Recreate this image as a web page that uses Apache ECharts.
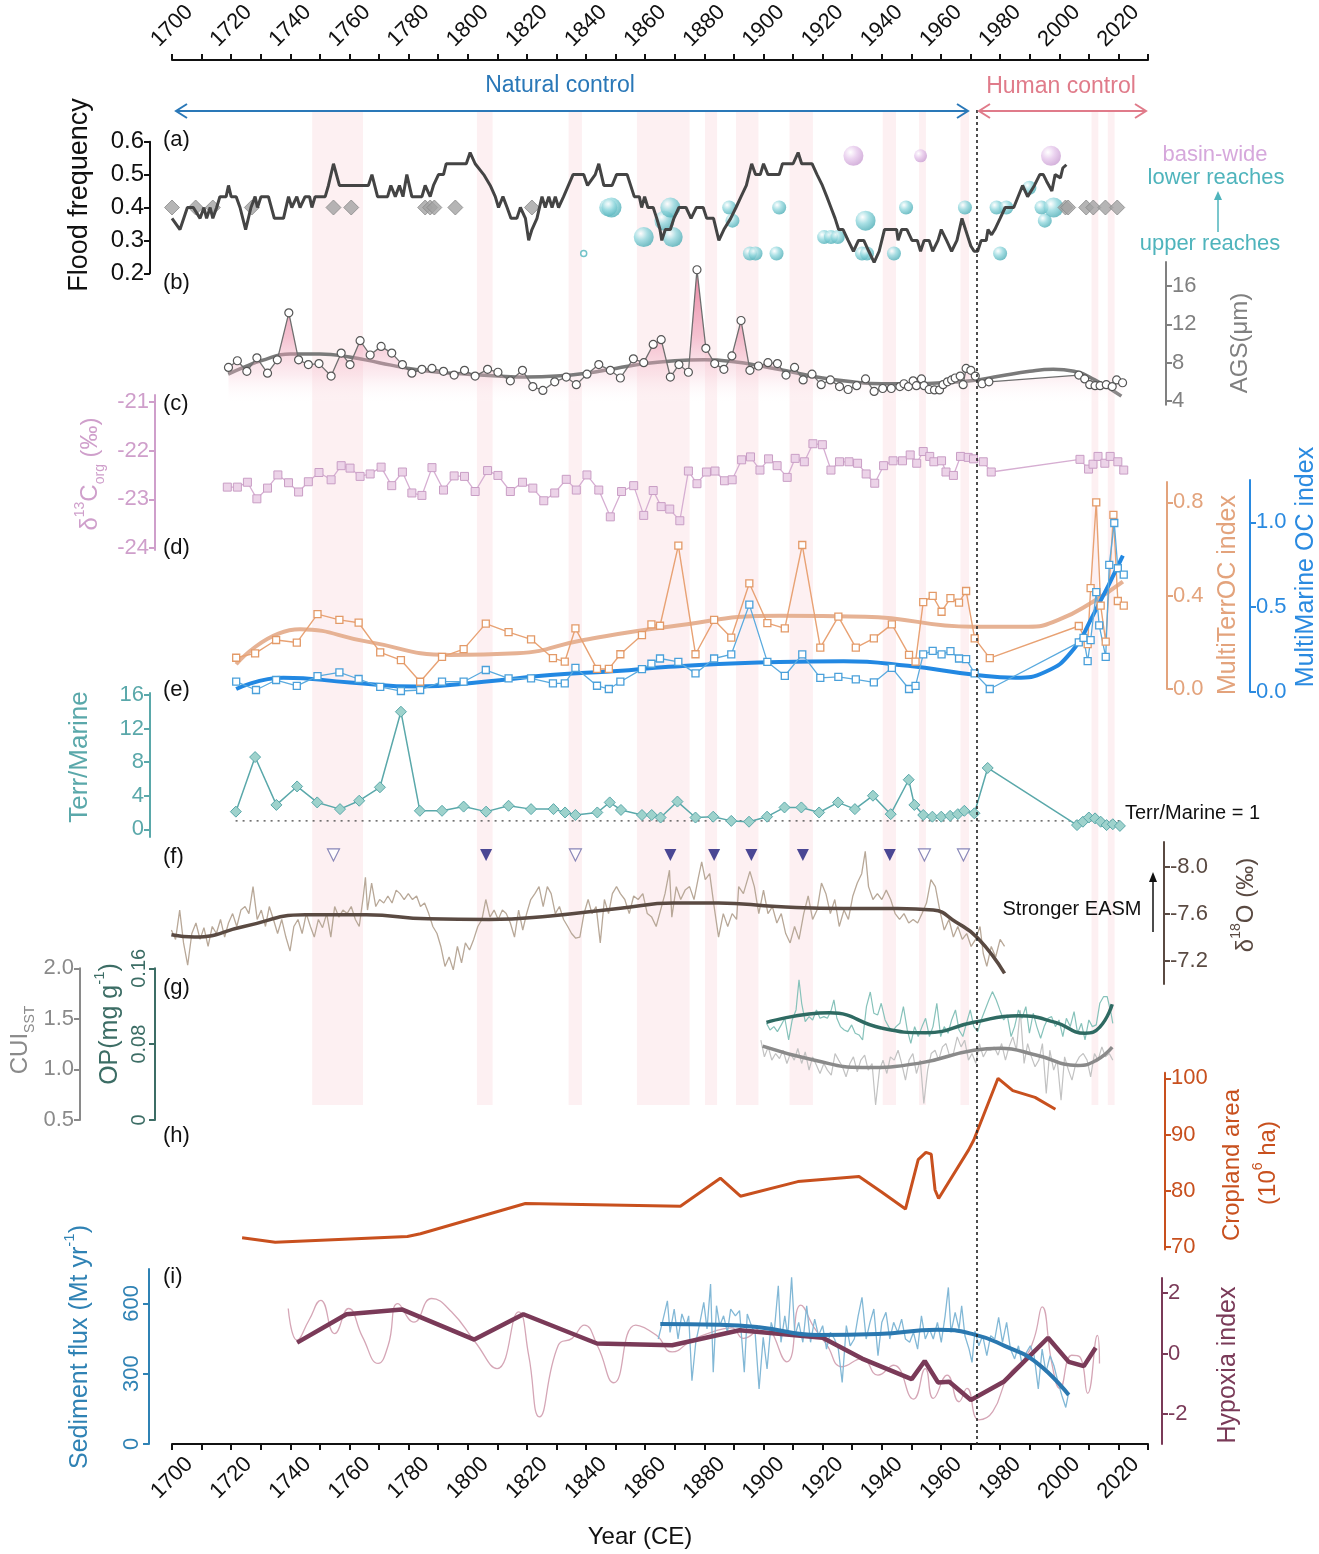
<!DOCTYPE html>
<html>
<head>
<meta charset="utf-8">
<script src="https://cdn.jsdelivr.net/npm/echarts@6/dist/echarts.min.js"></script>
<style>
  html, body { margin: 0; background: #fff; }
  #chart { width: 1319px; height: 1554px; }
</style>
</head>
<body>
<div id="chart"></div>
<script>
// Stacked palaeo-record panels (a)-(i) on one shared year axis.
// One grid per y axis so every axis can keep its own vertical extent.

const FONT = '"Liberation Sans", Arial, sans-serif';

// ---- shared x ----
const yearLabels = [1700, 1720, 1740, 1760, 1780, 1800, 1820, 1840, 1860, 1880, 1900, 1920, 1940, 1960, 1980, 2000, 2020];
const yearTicks = [1700, 1710, 1720, 1730, 1740, 1750, 1760, 1770, 1780, 1790, 1800, 1810, 1820, 1830, 1840, 1850, 1860,
  1870, 1880, 1890, 1900, 1910, 1920, 1930, 1940, 1950, 1960, 1970, 1980, 1990, 2000, 2010, 2020, 2030];
const floodBands = [[1747.4, 1764.6], [1803.1, 1808.4], [1834.1, 1838.6], [1857.2, 1875], [1880.2, 1884.3], [1890.7, 1898.3],
  [1908.8, 1916.7], [1940.3, 1944.8], [1952.6, 1954.9], [1966.6, 1969.5], [2010.9, 2013.2], [2016.4, 2018.7]];
const regimeShift = 1972;

// ---- (a) flood frequency ----
const floodTicks = [0.2, 0.3, 0.4, 0.5, 0.6];
const floodFreq = [[1700.0,.367],[1702.7,.333],[1705.2,.400],[1707.2,.400],[1709.5,.367],[1710.8,.400],[1711.7,.367],[1712.9,.400],
  [1713.8,.367],[1715.1,.400],[1716.2,.433],[1718.3,.433],[1719.1,.467],[1720.0,.433],[1721.7,.433],[1723.0,.400],[1724.9,.333],
  [1726.7,.400],[1728.1,.433],[1728.9,.400],[1730.1,.433],[1732.6,.433],[1734.6,.367],[1737.7,.367],[1739.4,.433],[1740.5,.400],
  [1742.2,.433],[1743.3,.400],[1745.0,.433],[1746.5,.433],[1747.3,.400],[1748.4,.433],[1751.8,.433],[1752.9,.467],[1754.6,.533],
  [1756.6,.467],[1766.4,.467],[1767.6,.500],[1769.5,.433],[1772.9,.433],[1774.0,.467],[1775.5,.433],[1776.9,.467],[1778.1,.433],
  [1779.4,.500],[1781.1,.433],[1784.5,.433],[1785.6,.467],[1787.3,.433],[1788.4,.467],[1790.1,.500],[1791.8,.500],[1792.7,.533],
  [1799.5,.533],[1800.8,.567],[1802.5,.533],[1805.4,.500],[1807.6,.467],[1809.3,.433],[1810.4,.400],[1811.9,.433],[1813.3,.400],
  [1814.6,.367],[1816.6,.367],[1817.8,.400],[1819.5,.367],[1820.6,.300],[1821.7,.333],[1823.4,.367],[1825.1,.433],[1826.2,.400],
  [1827.4,.433],[1828.5,.400],[1829.6,.433],[1830.7,.400],[1832.4,.433],[1835.6,.500],[1839.2,.500],[1840.5,.467],[1843.1,.500],
  [1844.3,.533],[1846.0,.467],[1848.8,.467],[1850.3,.500],[1853.9,.500],[1856.3,.433],[1858.0,.433],[1858.8,.400],[1859.8,.433],
  [1860.9,.400],[1862.7,.400],[1863.9,.367],[1865.0,.333],[1865.6,.300],[1866.8,.333],[1868.5,.333],[1869.7,.367],[1871.4,.400],
  [1873.8,.400],[1875.5,.367],[1877.3,.400],[1879.6,.400],[1880.8,.367],[1883.1,.367],[1884.9,.300],[1886.6,.333],[1888.9,.367],
  [1890.7,.400],[1892.4,.433],[1894.2,.467],[1896.0,.533],[1897.3,.500],[1898.9,.500],[1900.0,.533],[1901.5,.500],[1905.3,.500],
  [1906.4,.533],[1910.0,.533],[1911.7,.567],[1912.9,.533],[1916.4,.533],[1918.1,.500],[1919.9,.467],[1921.4,.433],[1922.8,.400],
  [1924.2,.367],[1925.4,.333],[1926.9,.333],[1928.6,.300],[1930.4,.267],[1932.1,.300],[1933.9,.300],[1935.6,.267],[1937.4,.233],
  [1939.1,.267],[1940.9,.333],[1945.0,.333],[1945.5,.300],[1946.7,.333],[1948.5,.333],[1950.2,.300],[1952.0,.300],[1953.1,.267],
  [1954.3,.300],[1956.0,.300],[1957.2,.267],[1959.0,.300],[1960.1,.333],[1961.9,.300],[1963.6,.267],[1965.4,.300],[1967.1,.367],
  [1968.3,.333],[1970.1,.283],[1971.2,.267],[1972.4,.267],[1973.6,.300],[1975.3,.300],[1975.9,.333],[1977.1,.317],[1978.2,.333],
  [1980.0,.367],[1981.7,.400],[1984.6,.400],[1987.6,.467],[1989.3,.433],[1991.6,.467],[1993.4,.500],[1994.6,.500],[1995.7,.480],
  [1997.5,.450],[1998.6,.500],[2000.4,.490],[2001.2,.520],[2002.4,.530]];
const documentedYears = [1700, 1708, 1713.8, 1727, 1754.6, 1760.6, 1785.6, 1787.3, 1788.7, 1795.8, 1821.7,
  2002.1, 2003, 2009.1, 2011.5, 2015.6, 2019.6];
const documentedLevel = 0.4;
// [year, level, bubble diameter]
const floodsRegional = [[1847.5,0.40,18],[1848.6,0.40,20],[1859.5,0.31,20],[1866.5,0.36,20],[1868.5,0.40,20],[1869.3,0.31,20],
  [1888.4,0.40,14],[1889.5,0.36,14],[1895.4,0.26,14],[1897.3,0.26,14],[1904.4,0.26,14],[1905.3,0.40,14],[1920.5,0.31,14],
  [1922.8,0.31,14],[1925.1,0.31,14],[1933.3,0.26,14],[1935.0,0.26,14],[1934.5,0.36,20],[1944.1,0.26,14],[1948.2,0.40,14],
  [1968.1,0.40,14],[1978.8,0.40,14],[1982.1,0.40,14],[1980.0,0.26,14],[1989.9,0.46,14],[1994.0,0.40,14],[1995.1,0.36,14],
  [1998.1,0.40,20]];
const floodsMinor = [[1839.2, 0.26, 6]];
const floodsBasin = [[1930.4,0.557,20],[1953.1,0.557,13],[1997.2,0.557,20]];

// ---- (b) AGS ----
const agsTicks = [4, 8, 12, 16];
const ags = [[1719.1,7.5],[1722.1,8.2],[1725.3,7.1],[1728.7,8.5],[1732.3,6.9],[1735.6,8.3],[1739.5,13.2],[1742.8,8.3],[1746.1,7.8],
  [1749.7,7.9],[1753.8,6.6],[1757.2,9.0],[1760.2,7.8],[1763.6,10.3],[1767.0,8.8],[1770.7,9.7],[1774.3,9.0],[1777.9,7.8],[1781.1,6.9],
  [1784.5,7.3],[1787.9,7.4],[1791.8,7.1],[1795.4,6.7],[1798.9,7.2],[1802.5,6.6],[1806.7,7.3],[1810.2,7.0],[1814.4,6.1],[1818.5,7.2],
  [1822.0,5.5],[1825.4,5.1],[1829.4,6.0],[1833.3,6.5],[1836.7,5.7],[1840.3,6.8],[1844.3,7.8],[1848.2,7.2],[1851.6,6.4],[1856.0,8.4],
  [1859.5,8.0],[1862.7,9.9],[1865.4,10.4],[1868.5,6.5],[1871.4,7.8],[1874.6,7.0],[1877.5,17.7],[1880.5,9.5],[1883.5,7.9],[1886.6,7.3],
  [1889.3,8.7],[1892.4,12.4],[1895.4,7.2],[1898.3,7.65],[1901.5,8.0],[1904.7,7.9],[1907.6,6.7],[1910.5,7.5],[1913.4,6.2],[1916.4,6.8],
  [1919.5,5.7],[1922.6,6.2],[1925.7,5.5],[1928.6,5.2],[1931.5,5.6],[1934.5,6.3],[1937.4,5.0],[1940.3,5.3],[1943.2,5.3],[1946.1,5.5],
  [1947.5,5.8],[1949.0,5.5],[1950.6,6.1],[1951.7,5.6],[1953.4,6.3],[1954.3,5.6],[1956.0,5.2],[1957.8,5.15],[1959.5,5.15],[1960.7,5.7],
  [1962.2,6.0],[1963.6,6.2],[1964.8,6.4],[1966.5,6.6],[1967.5,5.7],[1968.5,7.4],[1970.1,7.2],[1971.6,6.6],[1973.9,5.8],[1976.2,6.0],
  [2006.6,6.7],[2008.6,6.3],[2010.3,5.7],[2012.1,5.6],[2013.8,5.6],[2015.9,5.7],[2017.9,5.5],[2019.4,6.2],[2021.4,5.9]];
const agsSmooth = [[1719,6.8],[1725,7.6],[1730,8.2],[1740,8.9],[1750,8.9],[1760,8.6],[1770,8.0],[1780,7.4],[1790,7.0],[1800,6.8],
  [1810,6.6],[1820,6.5],[1830,6.6],[1840,6.9],[1850,7.4],[1860,7.9],[1870,8.2],[1880,8.3],[1890,8.1],[1900,7.6],[1910,7.0],
  [1920,6.4],[1930,6.0],[1940,5.8],[1950,5.8],[1960,5.9],[1970,6.1],[1980,6.6],[1990,7.1],[1998,7.3],[2005,7.1],[2012,6.2],[2021,4.5]];

// ---- (c) d13C org ----
const d13cTicks = [-24, -23, -22, -21];
const d13c = [[1718.7,-22.75],[1722.1,-22.75],[1725.5,-22.65],[1728.7,-22.99],[1732.3,-22.77],[1735.8,-22.50],[1739.4,-22.66],
  [1742.8,-22.85],[1746.1,-22.64],[1749.7,-22.45],[1753.8,-22.60],[1757.2,-22.31],[1760.2,-22.36],[1763.6,-22.53],[1767.0,-22.48],
  [1770.7,-22.34],[1774.3,-22.72],[1777.9,-22.44],[1781.1,-22.87],[1784.5,-22.92],[1787.9,-22.35],[1791.8,-22.81],[1795.4,-22.52],
  [1798.9,-22.53],[1802.5,-22.84],[1806.7,-22.41],[1810.2,-22.51],[1814.4,-22.84],[1818.5,-22.65],[1822.0,-22.77],[1825.7,-23.03],
  [1829.4,-22.87],[1833.3,-22.59],[1836.7,-22.81],[1840.3,-22.50],[1844.3,-22.81],[1848.2,-23.36],[1852.0,-22.84],[1856.1,-22.72],
  [1859.5,-23.33],[1862.7,-22.82],[1865.4,-23.15],[1868.3,-23.20],[1871.7,-23.44],[1874.6,-22.42],[1877.5,-22.68],[1880.7,-22.44],
  [1883.6,-22.42],[1886.8,-22.62],[1889.4,-22.60],[1892.6,-22.19],[1895.6,-22.13],[1898.8,-22.40],[1901.7,-22.17],[1904.6,-22.31],
  [1908.0,-22.55],[1910.7,-22.16],[1913.8,-22.23],[1916.7,-21.86],[1919.9,-21.88],[1922.8,-22.40],[1925.7,-22.23],[1928.9,-22.23],
  [1931.8,-22.26],[1934.7,-22.48],[1937.6,-22.67],[1940.6,-22.31],[1943.8,-22.21],[1947.0,-22.21],[1949.6,-22.09],[1951.8,-22.26],
  [1954.0,-22.02],[1956.2,-22.12],[1957.6,-22.23],[1960.2,-22.21],[1961.7,-22.44],[1964.2,-22.51],[1966.6,-22.12],[1969.2,-22.14],
  [1971.0,-22.17],[1974.3,-22.23],[1977.0,-22.44],[2007.0,-22.18],[2009.9,-22.38],[2011.4,-22.28],[2013.1,-22.12],[2015.4,-22.26],
  [2017.2,-22.12],[2019.8,-22.23],[2021.8,-22.40]];

// ---- (d) MultiTerrOC / MultiMarine OC ----
const terrTicks = [0, 0.4, 0.8];
const marineTicks = [0, 0.5, 1.0];
const terrOC = [[1721.7,0.134],[1728.1,0.153],[1735.2,0.210],[1742.2,0.199],[1749.2,0.321],[1756.6,0.296],[1763.1,0.284],
  [1770.4,0.157],[1777.4,0.124],[1783.9,0.031],[1791.3,0.138],[1798.6,0.171],[1806.1,0.280],[1813.8,0.244],[1821.4,0.213],
  [1828.8,0.132],[1832.8,0.117],[1836.4,0.260],[1843.7,0.086],[1847.7,0.086],[1851.6,0.149],[1858.9,0.231],[1862.1,0.277],
  [1865.0,0.271],[1871.2,0.614],[1877.0,0.149],[1883.3,0.296],[1889.1,0.220],[1895.2,0.453],[1901.3,0.282],[1907.2,0.260],
  [1913.1,0.617],[1919.2,0.177],[1925.3,0.310],[1931.2,0.177],[1937.3,0.217],[1943.4,0.277],[1949.2,0.146],[1951.4,0.117],
  [1954.0,0.372],[1957.2,0.399],[1960.2,0.331],[1963.2,0.389],[1966.1,0.370],[1968.5,0.420],[1971.4,0.217],[1976.5,0.132],
  [2006.6,0.270],[2009.6,0.192],[2010.6,0.432],[2012.5,0.800],[2014.0,0.357],[2015.7,0.203],[2018.3,0.746],[2019.8,0.377],
  [2021.8,0.357]];
const terrOCSmooth = [[1721.7,0.106],[1743.3,0.256],[1766,0.203],[1794,0.146],[1816.6,0.153],[1839.2,0.210],[1867.9,0.267],
  [1905.4,0.314],[1934.4,0.310],[1970.7,0.267],[1989.6,0.267],[1999.7,0.296],[2011.4,0.374],[2021.5,0.460]];
const marineOC = [[1721.7,0.059],[1728.4,0.010],[1735.2,0.069],[1742.2,0.034],[1749.2,0.092],[1756.6,0.114],[1763.1,0.075],
  [1770.4,0.028],[1777.4,0.004],[1783.9,0.010],[1791.3,0.059],[1798.6,0.059],[1806.1,0.128],[1813.8,0.079],[1821.4,0.079],
  [1828.8,0.049],[1832.8,0.049],[1836.4,0.141],[1843.7,0.035],[1847.7,0.016],[1851.6,0.059],[1858.9,0.133],[1862.1,0.165],
  [1865.0,0.196],[1871.2,0.176],[1877.0,0.108],[1883.3,0.196],[1889.1,0.220],[1895.2,0.514],[1901.3,0.176],[1907.2,0.094],
  [1913.1,0.220],[1919.2,0.082],[1925.3,0.088],[1931.2,0.073],[1937.3,0.055],[1943.4,0.141],[1949.2,0.016],[1951.4,0.034],
  [1954.0,0.220],[1957.2,0.241],[1960.2,0.220],[1963.2,0.239],[1966.1,0.196],[1968.5,0.192],[1971.4,0.108],[1976.5,0.016],
  [2006.6,0.291],[2008.2,0.318],[2009.6,0.180],[2010.6,0.304],[2012.5,0.588],[2013.5,0.392],[2015.7,0.206],[2016.9,0.749],
  [2018.6,0.996],[2019.8,0.729],[2021.8,0.691]];
const marineOCSmooth = [[1721.7,0.016],[1737.7,0.082],[1760.2,0.055],[1782.8,0.030],[1805.4,0.059],[1827.9,0.098],[1850.5,0.122],
  [1868,0.147],[1905.4,0.176],[1927.1,0.180],[1948.9,0.153],[1970.7,0.102],[1985.2,0.082],[1995.4,0.118],[2004.1,0.235],
  [2011.4,0.451],[2021.5,0.804]];

// ---- (e) Terr/Marine ----
const tmTicks = [0, 4, 8, 12, 16];
const terrMarine = [[1721.6,2.1],[1728.1,8.6],[1735.3,2.9],[1742.3,5.1],[1749.1,3.2],[1756.8,2.4],[1763.3,3.4],[1770.3,5.0],
  [1777.4,14.0],[1783.8,2.2],[1791.3,2.2],[1798.6,2.7],[1806.2,2.1],[1813.8,2.8],[1821.4,2.4],[1829.0,2.4],[1832.9,2.0],[1836.4,1.7],
  [1843.8,2.0],[1848.0,3.2],[1851.8,2.3],[1858.9,1.7],[1862.2,1.7],[1865.2,1.4],[1870.9,3.3],[1877.0,1.4],[1883.0,1.5],[1889.1,1.0],
  [1895.1,0.9],[1901.2,1.5],[1907.1,2.6],[1912.8,2.6],[1918.8,2.0],[1925.2,3.2],[1930.9,2.4],[1937.0,4.0],[1943.0,1.8],[1949.1,5.9],
  [1951.0,2.9],[1954.0,1.7],[1957.1,1.5],[1960.1,1.5],[1963.1,1.6],[1965.7,1.8],[1967.9,2.2],[1971.3,1.9],[1975.8,7.3],[2006.0,0.5],
  [2008.0,0.9],[2010.0,1.4],[2012.1,1.3],[2014.0,0.9],[2016.0,0.5],[2018.1,0.6],[2020.5,0.4]];
const tmParity = [[1721.5, 1], [2021, 1]];

// ---- (f) d18O ----
const d18oTicks = [-8.0, -7.6, -7.2];
const d18oAnnual = [[1699.8,-7.46],[1701.2,-7.38],[1702.6,-7.63],[1703.9,-7.35],[1705.3,-7.16],[1706.7,-7.43],[1708.1,-7.52],
  [1709.5,-7.38],[1710.8,-7.48],[1712.2,-7.32],[1713.6,-7.49],[1715.0,-7.43],[1716.4,-7.55],[1717.8,-7.40],[1719.1,-7.52],
  [1720.5,-7.60],[1721.9,-7.49],[1723.3,-7.63],[1724.7,-7.66],[1726.0,-7.60],[1727.4,-7.83],[1728.8,-7.55],[1730.2,-7.63],
  [1731.6,-7.49],[1732.9,-7.66],[1734.3,-7.55],[1735.7,-7.43],[1737.1,-7.55],[1738.5,-7.40],[1739.9,-7.28],[1741.2,-7.49],
  [1742.6,-7.55],[1744.0,-7.43],[1745.4,-7.60],[1746.8,-7.49],[1748.1,-7.40],[1749.5,-7.55],[1750.9,-7.48],[1752.3,-7.60],
  [1753.7,-7.40],[1755.0,-7.66],[1756.4,-7.57],[1757.8,-7.63],[1759.2,-7.60],[1760.6,-7.66],[1762.0,-7.55],[1763.3,-7.49],
  [1764.7,-7.75],[1765.4,-7.91],[1766.1,-7.63],[1767.5,-7.86],[1768.9,-7.66],[1770.2,-7.72],[1771.6,-7.69],[1773.0,-7.75],
  [1774.4,-7.69],[1775.8,-7.80],[1777.1,-7.77],[1778.5,-7.72],[1779.9,-7.77],[1781.3,-7.72],[1782.7,-7.75],[1784.0,-7.66],
  [1785.4,-7.69],[1786.8,-7.60],[1788.2,-7.49],[1789.6,-7.43],[1790.9,-7.32],[1792.3,-7.15],[1793.7,-7.23],[1795.1,-7.12],
  [1796.5,-7.32],[1797.9,-7.18],[1799.2,-7.35],[1800.6,-7.29],[1802.0,-7.38],[1803.4,-7.49],[1804.8,-7.55],[1806.1,-7.72],
  [1807.5,-7.57],[1808.9,-7.63],[1810.3,-7.55],[1811.7,-7.63],[1813.0,-7.60],[1814.4,-7.52],[1815.8,-7.40],[1817.2,-7.63],
  [1818.6,-7.46],[1819.9,-7.60],[1821.3,-7.72],[1822.7,-7.77],[1824.1,-7.83],[1825.5,-7.66],[1826.9,-7.83],[1828.2,-7.77],
  [1829.6,-7.60],[1831.0,-7.66],[1832.4,-7.55],[1833.8,-7.49],[1835.1,-7.43],[1836.5,-7.39],[1837.9,-7.40],[1839.3,-7.60],
  [1840.7,-7.72],[1842.0,-7.60],[1843.4,-7.66],[1844.8,-7.35],[1846.2,-7.72],[1847.6,-7.60],[1848.9,-7.77],[1850.3,-7.83],
  [1851.6,-7.77],[1853.1,-7.72],[1854.6,-7.60],[1856.1,-7.75],[1857.6,-7.72],[1859.2,-7.77],[1860.7,-7.60],[1862.2,-7.57],
  [1863.7,-7.49],[1865.2,-7.63],[1866.7,-7.77],[1868.2,-7.97],[1869.0,-7.57],[1870.5,-7.83],[1872.0,-7.72],[1873.5,-7.80],
  [1875.0,-7.83],[1876.5,-7.72],[1878.0,-7.91],[1879.1,-8.04],[1880.3,-7.89],[1881.8,-7.94],[1883.3,-7.66],[1884.8,-7.40],
  [1886.4,-7.60],[1887.9,-7.49],[1889.4,-7.60],[1890.9,-7.55],[1891.6,-7.83],[1893.2,-7.77],[1895.4,-7.96],[1896.9,-7.83],
  [1898.4,-7.60],[1900.0,-7.80],[1901.5,-7.60],[1903.0,-7.66],[1904.5,-7.52],[1906.0,-7.60],[1907.5,-7.43],[1909.0,-7.35],
  [1910.5,-7.49],[1912.0,-7.38],[1913.6,-7.60],[1915.1,-7.75],[1916.6,-7.55],[1918.1,-7.63],[1919.6,-7.86],[1921.1,-7.77],
  [1922.6,-7.60],[1924.1,-7.72],[1925.6,-7.49],[1927.2,-7.63],[1928.7,-7.55],[1930.2,-7.75],[1931.7,-7.86],[1933.2,-7.94],
  [1934.4,-8.13],[1935.5,-7.83],[1937.0,-7.72],[1938.5,-7.77],[1940.0,-7.72],[1941.5,-7.80],[1943.0,-7.72],[1944.5,-7.60],
  [1946.0,-7.55],[1947.5,-7.60],[1949.1,-7.52],[1950.6,-7.55],[1952.1,-7.52],[1953.6,-7.60],[1955.1,-7.69],[1956.6,-7.89],
  [1958.1,-7.83],[1959.6,-7.63],[1961.1,-7.46],[1962.7,-7.55],[1964.2,-7.40],[1965.7,-7.49],[1967.2,-7.38],[1968.7,-7.43],
  [1970.2,-7.32],[1971.7,-7.38],[1973.2,-7.49],[1974.3,-7.26],[1975.5,-7.15],[1977.0,-7.32],[1978.5,-7.23],[1980.0,-7.38],
  [1981.5,-7.32]];
const d18oSmooth = [[1699.8,-7.42],[1707.7,-7.40],[1724.3,-7.49],[1745,-7.59],[1765.7,-7.59],[1786.5,-7.555],[1807.2,-7.55],
  [1827.9,-7.58],[1851.6,-7.646],[1869.7,-7.69],[1884.8,-7.69],[1904.5,-7.66],[1927.2,-7.643],[1945.3,-7.643],[1957.4,-7.63],
  [1964.9,-7.53],[1972.5,-7.39],[1981.5,-7.09]];
const eventMarkLevel = -8.10;
const eventsStrong = [1806.2, 1868.5, 1883.3, 1895.9, 1913.3, 1942.7];
const eventsWeak = [1754.6, 1836.4, 1954.4, 1967.6];

// ---- (g) CUI_SST and OP ----
const cuiTicks = [0.5, 1.0, 1.5, 2.0];
const opTicks = [0, 0.08, 0.16];
const opAnnual = [[1901.0,.102],[1902.2,.095],[1903.5,.0985],[1904.7,.0932],[1906.0,.1003],[1907.2,.1073],[1908.5,.0844],
  [1909.7,.1055],[1911.0,.1161],[1912.0,.1478],[1912.9,.1231],[1914.1,.1038],[1915.4,.1090],[1916.6,.1055],[1917.9,.1161],
  [1919.1,.1073],[1920.4,.1090],[1921.6,.1073],[1922.9,.1161],[1923.8,.1266],[1924.8,.1073],[1926.0,.0985],[1927.3,.0950],
  [1928.5,.0932],[1929.8,.1003],[1931.0,.0915],[1932.3,.0897],[1933.5,.0844],[1934.8,.1196],[1936.1,.1350],[1937.3,.1126],
  [1938.6,.1108],[1939.8,.1231],[1941.1,.1055],[1942.3,.0985],[1943.6,.0932],[1944.8,.0985],[1946.1,.1020],[1947.3,.1196],
  [1948.6,.0950],[1949.8,.0809],[1951.1,.0985],[1952.3,.0880],[1953.6,.0985],[1954.8,.1073],[1956.1,.0880],[1957.3,.0985],
  [1958.6,.1231],[1959.9,.0880],[1961.1,.0985],[1962.4,.0915],[1963.6,.1055],[1964.9,.1161],[1966.1,.0950],[1967.4,.0880],
  [1968.6,.1020],[1969.9,.1161],[1971.1,.0985],[1972.4,.0932],[1973.6,.1055],[1974.9,.1161],[1976.2,.1266],[1977.4,.1354],
  [1978.7,.1266],[1979.9,.1161],[1981.2,.1055],[1982.4,.1108],[1983.7,.0880],[1984.9,.0985],[1986.2,.1161],[1987.4,.1073],
  [1988.7,.1196],[1989.9,.0915],[1991.2,.1126],[1992.4,.0985],[1993.7,.0862],[1994.9,.0985],[1996.2,.1073],[1997.4,.1090],
  [1998.7,.0985],[1999.9,.1055],[2001.2,.0880],[2002.4,.1073],[2003.7,.0985],[2005.0,.1143],[2006.2,.0915],[2007.5,.1020],
  [2008.7,.0844],[2010.0,.1055],[2011.2,.0985],[2012.5,.1003],[2013.7,.1231],[2015.0,.1302],[2016.2,.1302],[2017.5,.1126],
  [2018.1,.1020]];
const opSmooth = [[1901.0,.103],[1922.3,.113],[1939.8,.097],[1954.9,.092],[1971.1,.103],[1986.2,.110],[1998.7,.103],
  [2008.7,.0915],[2013.7,.098],[2017.9,.122]];
const cuiAnnual = [[1899.1,1.289],[1900.3,1.124],[1901.6,1.223],[1902.8,1.092],[1904.1,1.157],[1905.4,1.108],[1906.6,1.190],
  [1907.9,1.059],[1909.1,1.157],[1910.4,1.092],[1911.6,1.207],[1912.9,1.059],[1914.1,1.174],[1915.4,0.993],[1916.6,1.124],
  [1917.9,1.042],[1919.1,0.960],[1920.4,1.059],[1921.6,0.993],[1922.9,0.944],[1924.2,1.157],[1925.4,1.092],[1926.7,1.026],
  [1927.9,0.927],[1929.2,1.059],[1930.4,1.124],[1931.7,0.977],[1932.9,1.092],[1934.2,1.141],[1935.4,0.993],[1936.7,1.059],
  [1937.9,0.648],[1939.2,0.993],[1940.4,1.092],[1941.7,0.960],[1942.9,1.124],[1944.2,1.092],[1945.5,1.190],[1946.7,1.059],
  [1948.0,0.894],[1949.2,1.092],[1950.5,1.157],[1951.7,0.960],[1953.0,1.092],[1954.2,0.664],[1955.5,0.993],[1956.7,1.157],
  [1958.0,1.190],[1959.2,1.092],[1960.5,1.223],[1961.7,1.256],[1963.0,1.124],[1964.2,1.157],[1965.5,1.322],[1966.8,1.223],
  [1968.0,1.289],[1969.3,1.092],[1970.5,1.157],[1971.8,1.059],[1973.0,1.256],[1974.3,1.124],[1975.5,1.190],[1976.8,1.190],
  [1978.0,1.223],[1979.3,1.141],[1980.5,1.256],[1981.8,1.092],[1983.0,1.223],[1984.3,1.322],[1985.5,1.190],[1986.8,1.585],
  [1988.1,1.059],[1989.3,1.256],[1990.6,1.124],[1991.8,1.026],[1993.1,1.092],[1994.3,1.256],[1995.6,0.763],[1996.8,1.190],
  [1998.1,0.993],[1999.3,1.092],[2000.6,0.697],[2001.8,1.124],[2003.1,0.993],[2004.3,0.894],[2005.6,1.059],[2006.8,1.124],
  [2008.1,1.157],[2009.4,1.092],[2010.6,0.927],[2011.9,1.157],[2013.1,1.092],[2014.4,1.223],[2015.6,1.124],[2016.9,1.157],
  [2018.1,1.092]];
const cuiSmooth = [[1899.7,1.23],[1917.3,1.09],[1933.5,1.02],[1952.3,1.06],[1971.1,1.19],[1979.9,1.21],[1992.4,1.14],
  [2006.2,1.04],[2012.5,1.09],[2017.9,1.22]];

// ---- (h) cropland area ----
const cropTicks = [70, 80, 90, 100];
const cropland = [[1723.7,71.6],[1734.9,70.8],[1779.6,71.8],[1784.0,72.3],[1819.5,77.7],[1871.9,77.2],[1885.4,82.2],[1892.2,79.0],
  [1911.6,81.6],[1932.3,82.5],[1939.8,79.8],[1948.0,76.7],[1952.3,85.5],[1954.9,86.8],[1956.7,86.5],[1958.0,80.1],[1959.2,78.6],
  [1969.3,87.2],[1971.1,89.0],[1979.3,100.0],[1984.3,97.8],[1991.8,96.6],[1998.7,94.5]];

// ---- (i) sediment flux and hypoxia ----
const sedTicks = [0, 300, 600];
const hypTicks = [-2, 0, 2];
const sedAnnual = [[1864.4,448],[1865.8,519],[1867.5,611],[1868.4,476],[1869.8,576],[1871.1,448],[1872.4,555],[1873.8,505],
  [1874.7,547],[1875.8,270],[1877.1,434],[1878.5,519],[1879.8,604],[1880.9,491],[1882.1,683],[1883.0,306],[1884.1,590],
  [1885.2,505],[1886.5,547],[1887.8,476],[1888.9,576],[1890.5,547],[1891.9,569],[1893.5,306],[1894.5,555],[1895.9,505],
  [1897.2,469],[1898.5,235],[1899.9,455],[1901.2,320],[1902.6,519],[1903.6,476],[1905.0,675],[1905.9,434],[1907.2,547],
  [1908.2,462],[1909.5,711],[1910.6,462],[1911.9,519],[1913.3,434],[1914.6,590],[1915.9,434],[1917.3,533],[1918.6,462],
  [1920.0,505],[1921.3,405],[1922.6,476],[1924.0,448],[1925.3,405],[1926.6,263],[1928.0,505],[1929.3,419],[1930.7,448],
  [1932.0,547],[1933.3,626],[1934.7,448],[1936.0,519],[1937.3,576],[1938.7,377],[1940.0,519],[1941.4,562],[1942.7,448],
  [1944.0,519],[1945.4,476],[1946.7,533],[1948.0,448],[1949.4,434],[1950.7,476],[1952.1,405],[1953.4,547],[1954.7,448],
  [1956.1,491],[1957.4,448],[1958.8,519],[1960.1,434],[1961.4,547],[1962.5,668],[1963.4,476],[1964.8,562],[1966.1,491],
  [1967.0,590],[1968.1,462],[1969.5,405],[1970.5,348],[1971.5,483],[1972.8,419],[1974.1,462],[1975.5,377],[1976.8,462],
  [1978.2,448],[1979.5,540],[1980.8,434],[1982.2,519],[1983.5,405],[1984.9,363],[1986.2,419],[1987.5,334],[1988.9,391],
  [1990.2,419],[1991.5,377],[1992.9,235],[1994.2,405],[1995.5,306],[1996.9,377],[1998.2,334],[1999.6,263],[2000.9,206],
  [2002.2,156],[2003.2,220]];
const sedSmooth = [[1865.1,512],[1885.2,509],[1898.5,498],[1918.6,465],[1938.7,469],[1958.8,488],[1970.8,469],[1981.5,419],
  [1992.2,348],[2003.2,209]];
const hypoxiaRaw = [[1739.3,1.49],[1742.3,0.44],[1746.3,1.10],[1750.3,1.76],[1755.0,0.66],[1759.7,1.49],[1764.4,0.55],
  [1769.7,-0.33],[1773.1,0.27],[1776.4,1.65],[1781.8,1.04],[1787.8,1.82],[1794.5,1.38],[1802.5,0.38],[1809.9,-0.50],[1817.2,1.38],
  [1820.6,-0.06],[1824.2,-2.10],[1830.6,0.27],[1835.3,0.50],[1839.4,0.94],[1844.0,0.22],[1849.4,-0.97],[1856.8,0.94],[1863.8,0.60],
  [1869.1,0.05],[1875.8,0.44],[1882.5,0.71],[1889.2,0.85],[1893.2,0.50],[1899.9,0.88],[1907.9,-0.28],[1912.6,1.60],[1917.3,0.83],
  [1921.3,0.30],[1926.6,-0.44],[1933.3,-0.17],[1938.7,-0.72],[1944.0,-0.39],[1950.7,-1.51],[1954.7,-0.50],[1957.4,-1.49],
  [1962.1,-0.72],[1966.1,-1.60],[1968.8,-1.16],[1972.8,-2.20],[1977.5,-1.93],[1982.8,-0.72],[1988.2,-0.17],[1991.5,0.50],
  [1994.2,1.54],[1997.6,-0.39],[2000.2,-1.16],[2004.2,-0.06],[2006.9,-0.11],[2009.6,-1.32],[2012.9,0.60],[2013.6,-0.33]];
const hypoxiaMean = [[1742.3,0.36],[1759.0,1.30],[1777.7,1.46],[1802.2,0.46],[1818.8,1.30],[1843.7,0.33],[1869.1,0.27],
  [1891.9,0.77],[1920.0,0.52],[1933.3,-0.17],[1950.1,-0.85],[1954.5,-0.25],[1959.0,-0.96],[1962.8,-0.94],[1970.1,-1.54],
  [1981.2,-0.94],[1996.2,0.52],[2003.2,-0.28],[2008.3,-0.42],[2012.3,0.19]];

// ---------------------------------------------------------------------------
const PLOT_LEFT = 172, PLOT_RIGHT = 1148;
const C = {
  flood: '#444444', ags: '#808080', d13c: '#cf9fcb', terr: '#e3a37c', marine: '#2a8ae0', tm: '#5aa8aa',
  d18o: '#5a4a42', cui: '#8a8a8a', op: '#3c6d65', crop: '#c8501e', sed: '#2f82b4', hyp: '#7a3a58',
  band: '#fdf0f2', lower: '#4fb4bc', basin: '#d6a8dc', natural: '#2a78b8', human: '#e07b8a'
};

// panel layout: pixel top/bottom of each axis and where the axis line sits
const panels = [
  { key: 'flood', top: 141.7, bottom: 273.3, min: 0.2, max: 0.6, side: 'left', axisX: 150, ticks: floodTicks, color: '#111', fmt: v => v.toFixed(1), fs: 24 },
  { key: 'ags', top: 262.1, bottom: 404.8, min: 3.6, max: 18.5, side: 'right', axisX: 1166, ticks: agsTicks, color: C.ags },
  { key: 'd13c', top: 395, bottom: 550, min: -24.04, max: -20.86, side: 'left', axisX: 155, ticks: d13cTicks, color: C.d13c },
  { key: 'terr', top: 482, bottom: 689, min: 0, max: 0.887, side: 'right', axisX: 1167, ticks: terrTicks, color: C.terr, fmt: v => v.toFixed(1) },
  { key: 'marine', top: 480, bottom: 691.7, min: 0, max: 1.25, side: 'right', axisX: 1250, ticks: marineTicks, color: C.marine, fmt: v => v.toFixed(1) },
  { key: 'tm', top: 693, bottom: 837, min: -0.92, max: 16.23, side: 'left', axisX: 150, ticks: tmTicks, color: C.tm },
  { key: 'd18o', top: 842, bottom: 984, min: -8.21, max: -7.0, inverse: true, side: 'right', axisX: 1164, ticks: d18oTicks, color: C.d18o, fmt: v => v.toFixed(1) },
  { key: 'cui', top: 968.3, bottom: 1120, min: 0.5, max: 2.0, side: 'left', axisX: 80, ticks: cuiTicks, color: C.cui, fmt: v => v.toFixed(1) },
  { key: 'op', top: 968.3, bottom: 1120, min: 0, max: 0.16, side: 'left', axisX: 155, ticks: opTicks, color: C.op, rot: 90, fs: 20 },
  { key: 'crop', top: 1072.7, bottom: 1249.5, min: 69.5, max: 101, side: 'right', axisX: 1165, ticks: cropTicks, color: C.crop },
  { key: 'sed', top: 1269, bottom: 1444, min: 0, max: 746.7, side: 'left', axisX: 149, ticks: sedTicks, color: C.sed, rot: 90, fs: 22 },
  { key: 'hyp', top: 1278, bottom: 1444, min: -3, max: 2.5, side: 'right', axisX: 1162, ticks: hypTicks, color: C.hyp },
  { key: 'bands', top: 112, bottom: 1105, min: 0, max: 1, hidden: true },
  { key: 'vline', top: 110, bottom: 1445, min: 0, max: 1, hidden: true }
];
const G = {};
panels.forEach((p, i) => { G[p.key] = i; });

const grids = panels.map(p => ({
  left: PLOT_LEFT, width: PLOT_RIGHT - PLOT_LEFT, top: p.top, height: p.bottom - p.top,
  containLabel: false, outerBoundsMode: 'none'
}));

const xAxes = panels.map((p, i) => ({
  gridIndex: i, type: 'value', min: 1700, max: 2030, show: false, splitLine: { show: false }
}));
function yearAxis(position, offset, rotate) {
  return {
    show: true, position: position, offset: offset,
    axisLine: { show: true, onZero: false, lineStyle: { color: '#111', width: 2 } },
    axisTick: { show: true, customValues: yearTicks, length: 6, lineStyle: { color: '#111', width: 2 } },
    axisLabel: {
      customValues: yearLabels, rotate: rotate, align: 'center', verticalAlign: 'middle', margin: 34,
      color: '#111', fontSize: 22, fontFamily: FONT, formatter: v => String(v)
    }
  };
}
Object.assign(xAxes[G.bands], yearAxis('top', 112 - 60, -45));
Object.assign(xAxes[G.sed], yearAxis('bottom', 0, 45));

const yAxes = panels.map((p, i) => {
  if (p.hidden) return { gridIndex: i, type: 'value', min: p.min, max: p.max, show: false };
  return {
    gridIndex: i, type: 'value', min: p.min, max: p.max, inverse: !!p.inverse,
    position: p.side,
    offset: p.side === 'left' ? PLOT_LEFT - p.axisX : p.axisX - PLOT_RIGHT,
    splitLine: { show: false },
    axisLine: { show: true, onZero: false, lineStyle: { color: p.color, width: 2 } },
    axisTick: { show: true, customValues: p.ticks, length: 6, lineStyle: { color: p.color, width: 2 } },
    axisLabel: {
      customValues: p.ticks, color: p.color, fontSize: p.fs || 22, fontFamily: FONT, margin: 6,
      rotate: p.rot || 0, formatter: p.fmt || (v => String(v))
    }
  };
});

function on(key) { return { xAxisIndex: G[key], yAxisIndex: G[key] }; }
function line(key, data, color, width, extra) {
  return Object.assign({
    type: 'line', data: data, symbol: 'none', silent: true, z: 3,
    lineStyle: { color: color, width: width }, itemStyle: { color: color }
  }, on(key), extra || {});
}
function sphere(inner, mid, outer) {
  return new echarts.graphic.RadialGradient(0.35, 0.32, 0.75, [
    { offset: 0, color: inner }, { offset: 0.45, color: mid }, { offset: 1, color: outer }
  ]);
}

const series = [
  // background bands and the 1972 divider
  Object.assign({
    type: 'line', data: [], silent: true, z: 0,
    markArea: {
      silent: true, z: 0, itemStyle: { color: C.band },
      data: floodBands.map(b => [{ xAxis: b[0] }, { xAxis: b[1] }])
    }
  }, on('bands')),
  Object.assign({
    type: 'line', data: [], silent: true,
    markLine: {
      silent: true, symbol: ['none', 'none'], label: { show: false },
      lineStyle: { color: '#222', width: 1.6, type: [3, 3] },
      data: [{ xAxis: regimeShift }]
    }
  }, on('vline')),

  // (a)
  Object.assign({
    type: 'scatter', data: floodsRegional, symbolSize: v => v[2], z: 2, silent: true,
    itemStyle: { color: sphere('#ffffff', '#93d8de', '#45a9b2') }
  }, on('flood')),
  Object.assign({
    type: 'scatter', data: floodsMinor, symbolSize: v => v[2], z: 2, silent: true,
    itemStyle: { color: '#ffffff', borderColor: C.lower, borderWidth: 1.5 }
  }, on('flood')),
  Object.assign({
    type: 'scatter', data: floodsBasin, symbolSize: v => v[2], z: 2, silent: true,
    itemStyle: { color: sphere('#ffffff', '#e6c8ec', '#c79ad0') }
  }, on('flood')),
  Object.assign({
    type: 'scatter', data: documentedYears.map(y => [y, documentedLevel]), symbol: 'diamond', symbolSize: 15,
    z: 2, silent: true, itemStyle: { color: '#a3a3a3', borderColor: '#8a8a8a', borderWidth: 1 }
  }, on('flood')),
  line('flood', floodFreq, C.flood, 3, { z: 4 }),

  // (b)
  line('ags', ags, '#6f6f6f', 1.3, {
    symbol: 'circle', symbolSize: 8, showSymbol: true, z: 4,
    itemStyle: { color: '#ffffff', borderColor: '#555', borderWidth: 1.2 },
    areaStyle: {
      origin: 'start',
      color: new echarts.graphic.LinearGradient(0, 0, 0, 1, [
        { offset: 0, color: 'rgba(222,70,112,0.95)' },
        { offset: 0.5, color: 'rgba(236,140,168,0.75)' },
        { offset: 0.78, color: 'rgba(246,196,210,0.45)' },
        { offset: 1, color: 'rgba(255,255,255,0)' }
      ])
    }
  }),
  line('ags', agsSmooth, '#7a7a7a', 3.5, { smooth: 0.5, z: 3 }),

  // (c)
  line('d13c', d13c, '#d6aed2', 1.3, {
    symbol: 'rect', symbolSize: 8, showSymbol: true,
    itemStyle: { color: '#ecd3e8', borderColor: '#c99ec5', borderWidth: 1 }
  }),

  // (d)
  line('terr', terrOCSmooth, '#e6b294', 4, { smooth: 0.5 }),
  line('terr', terrOC, '#e8a274', 1.4, {
    symbol: 'rect', symbolSize: 7, showSymbol: true,
    itemStyle: { color: '#ffffff', borderColor: '#e39a68', borderWidth: 1.3 }
  }),
  line('marine', marineOCSmooth, '#2288e2', 4, { smooth: 0.5 }),
  line('marine', marineOC, '#5aaade', 1.3, {
    symbol: 'rect', symbolSize: 7, showSymbol: true,
    itemStyle: { color: '#ffffff', borderColor: '#4aa0da', borderWidth: 1.3 }
  }),

  // (e)
  line('tm', terrMarine, C.tm, 1.5, {
    symbol: 'diamond', symbolSize: 11, showSymbol: true,
    itemStyle: { color: '#9ed2cc', borderColor: '#5aa8aa', borderWidth: 1 }
  }),
  line('tm', tmParity, '#444', 1.4, { lineStyle: { color: '#444', width: 1.4, type: [2, 5] }, z: 2 }),

  // (f)
  line('d18o', d18oAnnual, '#b8a898', 1.3, { z: 2 }),
  line('d18o', d18oSmooth, C.d18o, 3.5, { smooth: 0.5 }),
  Object.assign({
    type: 'scatter', data: eventsStrong.map(y => [y, eventMarkLevel]), symbol: 'triangle', symbolRotate: 180,
    symbolSize: 12, silent: true, itemStyle: { color: '#1d1d7c' }
  }, on('d18o')),
  Object.assign({
    type: 'scatter', data: eventsWeak.map(y => [y, eventMarkLevel]), symbol: 'triangle', symbolRotate: 180,
    symbolSize: 12, silent: true, itemStyle: { color: '#ffffff', borderColor: '#6a6aa8', borderWidth: 1.2 }
  }, on('d18o')),

  // (g)
  line('cui', cuiAnnual, '#c2c2c2', 1.2, { z: 2 }),
  line('op', opAnnual, '#86c2ba', 1.2, { z: 2 }),
  line('cui', cuiSmooth, '#8a8a8a', 3.5, { smooth: 0.5 }),
  line('op', opSmooth, '#2e6a62', 3.5, { smooth: 0.5 }),

  // (h)
  line('crop', cropland, C.crop, 3),

  // (i)
  line('hyp', hypoxiaRaw, '#d5a6b6', 1.3, { smooth: 0.5, z: 2 }),
  line('sed', sedAnnual, '#82b8d6', 1.3, { z: 2 }),
  line('hyp', hypoxiaMean, '#7a3a58', 4.5, { z: 3 }),
  line('sed', sedSmooth, '#2a78b0', 4, { smooth: 0.5, z: 4 })
];

// ---- text and arrows ----
function txt(x, y, text, size, color, rotate, extra) {
  return {
    type: 'text', x: x, y: y, rotation: rotate ? Math.PI / 2 : 0, z: 100, silent: true,
    style: Object.assign({
      text: text, fontSize: size, fill: color, fontFamily: FONT, align: 'center', verticalAlign: 'middle'
    }, extra || {})
  };
}
function rich(color, size) {
  return {
    n: { fontSize: size, fill: color, fontFamily: FONT, lineHeight: size + 10 },
    sup: { fontSize: Math.round(size * 0.6), fill: color, fontFamily: FONT, verticalAlign: 'top' },
    sub: { fontSize: Math.round(size * 0.6), fill: color, fontFamily: FONT, verticalAlign: 'bottom' }
  };
}
function richTxt(x, y, text, size, color) {
  return txt(x, y, text, size, color, true, { rich: rich(color, size) });
}
function seg(x1, y1, x2, y2, color, w) {
  return { type: 'line', z: 100, silent: true, shape: { x1, y1, x2, y2 }, style: { stroke: color, lineWidth: w || 2 } };
}
function head(points, color) {
  return { type: 'polyline', z: 100, silent: true, shape: { points: points }, style: { stroke: color, lineWidth: 2, fill: null } };
}

const graphics = [
  txt(560, 86, 'Natural control', 23, C.natural),
  txt(1061, 87, 'Human control', 23, C.human),
  seg(176, 111, 968, 111, C.natural, 2),
  head([[187, 104], [176, 111], [187, 118]], C.natural),
  head([[957, 104], [968, 111], [957, 118]], C.natural),
  seg(979, 111, 1146, 111, C.human, 2),
  head([[990, 104], [979, 111], [990, 118]], C.human),
  head([[1135, 104], [1146, 111], [1135, 118]], C.human),

  txt(163, 140, '(a)', 22, '#111', false, { align: 'left' }),
  txt(163, 283, '(b)', 22, '#111', false, { align: 'left' }),
  txt(163, 404, '(c)', 22, '#111', false, { align: 'left' }),
  txt(163, 548, '(d)', 22, '#111', false, { align: 'left' }),
  txt(163, 690, '(e)', 22, '#111', false, { align: 'left' }),
  txt(163, 857, '(f)', 22, '#111', false, { align: 'left' }),
  txt(163, 988, '(g)', 22, '#111', false, { align: 'left' }),
  txt(163, 1136, '(h)', 22, '#111', false, { align: 'left' }),
  txt(163, 1277, '(i)', 22, '#111', false, { align: 'left' }),

  txt(80, 195, 'Flood frequency', 27, '#111', true),
  txt(1240, 343, 'AGS(μm)', 24, C.ags, true),
  richTxt(90, 474, '{n|δ}{sup|13}{n|C}{sub|org}{n| (‰)}', 24, C.d13c),
  txt(1228, 595, 'MultiTerrOC index', 25, C.terr, true),
  txt(1306, 567, 'MultiMarine OC index', 25, C.marine, true),
  txt(80, 757, 'Terr/Marine', 26, C.tm, true),
  richTxt(1246, 905, '{n|δ}{sup|18}{n|O (‰)}', 24, C.d18o),
  richTxt(20, 1040, '{n|CUI}{sub|SST}', 24, C.cui),
  richTxt(110, 1024, '{n|OP(mg g}{sup|-1}{n|)}', 25, C.op),
  txt(1232, 1165, 'Cropland area', 24, C.crop, true),
  richTxt(1268, 1163, '{n|(10}{sup|6}{n| ha)}', 24, C.crop),
  richTxt(80, 1347, '{n|Sediment flux (Mt yr}{sup|-1}{n|)}', 25, C.sed),
  txt(1228, 1365, 'Hypoxia index', 25, C.hyp, true),
  txt(640, 1537, 'Year (CE)', 24, '#111'),

  txt(1215, 155, 'basin-wide', 22, C.basin),
  txt(1216, 178, 'lower reaches', 22, C.lower),
  seg(1218, 232, 1218, 198, C.lower, 1.5),
  { type: 'polygon', z: 100, silent: true, shape: { points: [[1214, 200], [1218, 191], [1222, 200]] }, style: { fill: C.lower } },
  txt(1210, 244, 'upper reaches', 22, C.lower),

  txt(1125, 813, 'Terr/Marine = 1', 20, '#111', false, { align: 'left' }),
  txt(1072, 909, 'Stronger EASM', 20, '#111'),
  seg(1153, 932, 1153, 880, '#111', 1.5),
  { type: 'polygon', z: 100, silent: true, shape: { points: [[1149, 882], [1153, 872], [1157, 882]] }, style: { fill: '#111' } }
];

const chart = echarts.init(document.getElementById('chart'), null, { renderer: 'canvas' });
chart.setOption({
  animation: false,
  backgroundColor: '#ffffff',
  textStyle: { fontFamily: FONT },
  grid: grids,
  xAxis: xAxes,
  yAxis: yAxes,
  series: series,
  graphic: graphics
});
</script>
</body>
</html>
